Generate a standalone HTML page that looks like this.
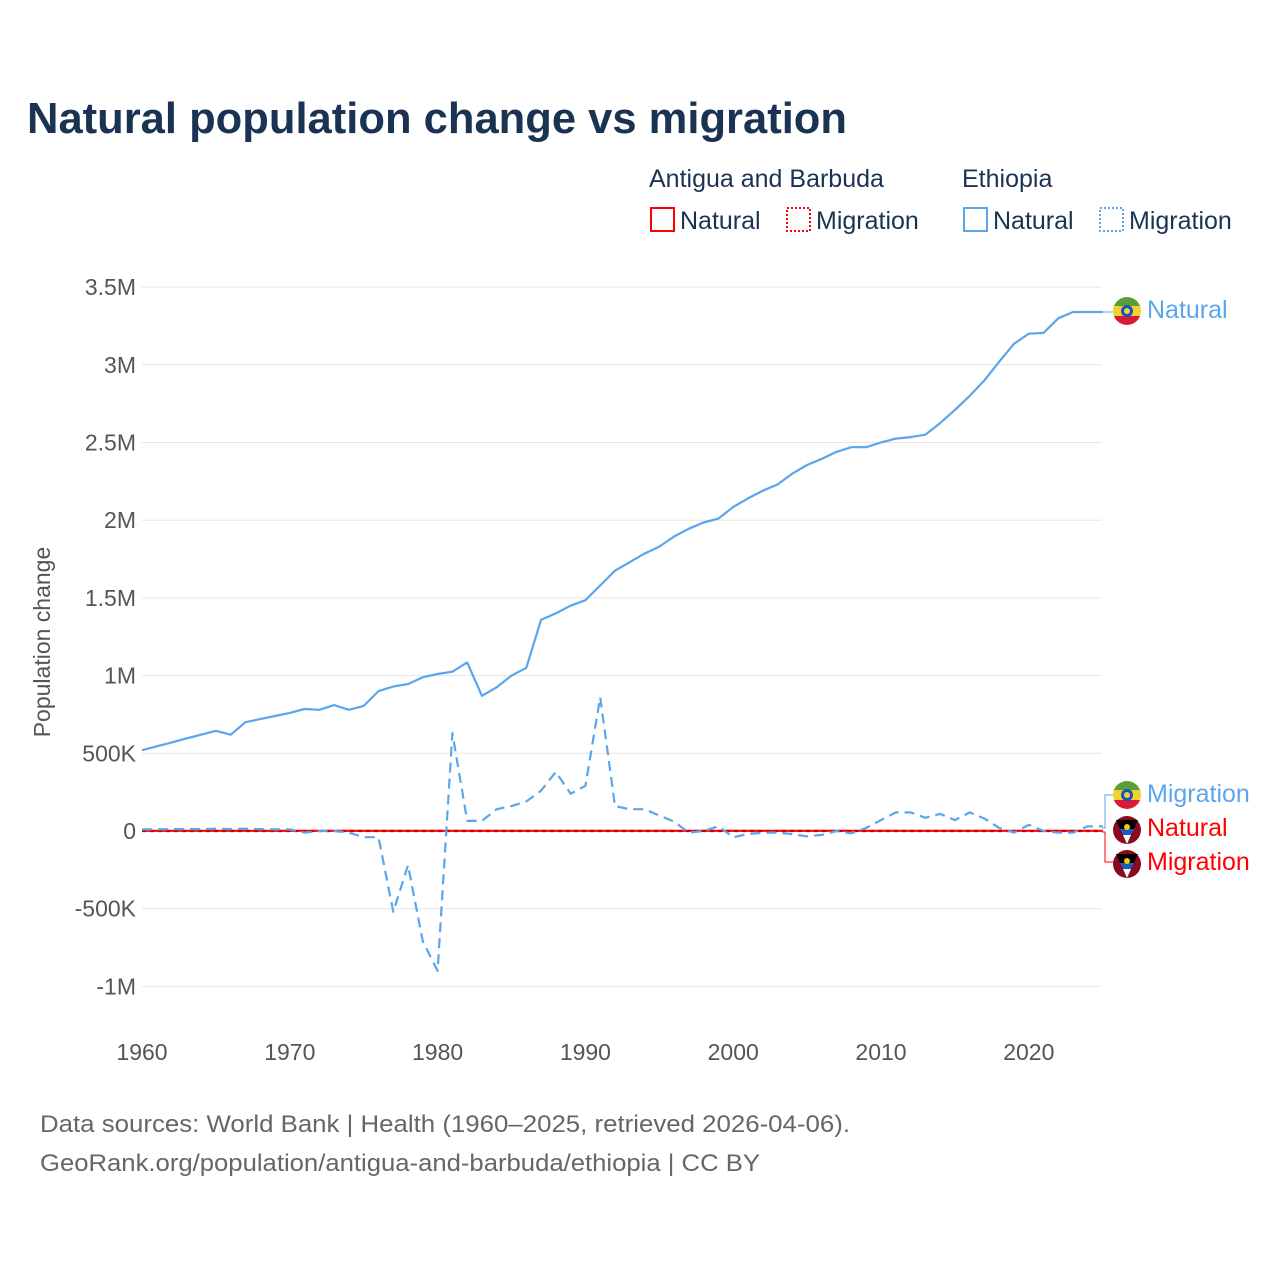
<!DOCTYPE html>
<html><head><meta charset="utf-8">
<style>
body{margin:0;background:#fff;font-family:"Liberation Sans",sans-serif;}
svg text{font-family:"Liberation Sans",sans-serif;}
</style></head>
<body>
<svg id="chart" width="1280" height="1280" viewBox="0 0 1280 1280" xmlns="http://www.w3.org/2000/svg">
<text x="27" y="133" font-size="44" font-weight="bold" fill="#1a3353" textLength="820" lengthAdjust="spacingAndGlyphs">Natural population change vs migration</text>
<g font-size="25" fill="#1a3353">
<text x="649" y="187">Antigua and Barbuda</text>
<text x="962" y="187">Ethiopia</text>
<g><rect x="651" y="208" width="23" height="23" fill="none" stroke="#f00" stroke-width="2"/><text x="680" y="229">Natural</text></g>
<g><rect x="787" y="208" width="23" height="23" fill="none" stroke="#f00" stroke-width="2" stroke-dasharray="2,2"/><text x="816" y="229">Migration</text></g>
<g><rect x="964" y="208" width="23" height="23" fill="none" stroke="#5aa5ec" stroke-width="2"/><text x="993" y="229">Natural</text></g>
<g><rect x="1100" y="208" width="23" height="23" fill="none" stroke="#5aa5ec" stroke-width="2" stroke-dasharray="2,2"/><text x="1129" y="229">Migration</text></g>
</g>
<g id="grid"></g>
<g id="axes"></g>
<g id="series"></g>
<g id="labels"></g>
<text transform="translate(50,642) rotate(-90)" text-anchor="middle" font-size="23" fill="#555">Population change</text>
<text x="40" y="1132" font-size="24" fill="#666" textLength="810" lengthAdjust="spacingAndGlyphs">Data sources: World Bank | Health (1960–2025, retrieved 2026-04-06).</text>
<text x="40" y="1171" font-size="24" fill="#666" textLength="720" lengthAdjust="spacingAndGlyphs">GeoRank.org/population/antigua-and-barbuda/ethiopia | CC BY</text>
</svg>
<script>
const years=[];for(let y=1960;y<=2025;y++)years.push(y);
const ethNatural=[0.52,0.545,0.57,0.595,0.62,0.645,0.62,0.70,0.72,0.74,0.76,0.785,0.78,0.81,0.78,0.805,0.90,0.93,0.945,0.99,1.01,1.025,1.085,0.87,0.925,1.0,1.05,1.36,1.40,1.45,1.485,1.58,1.675,1.73,1.785,1.83,1.895,1.945,1.985,2.01,2.085,2.14,2.19,2.23,2.30,2.355,2.395,2.44,2.47,2.47,2.50,2.525,2.535,2.55,2.625,2.71,2.80,2.90,3.02,3.135,3.20,3.205,3.30,3.34,3.34,3.34];
const ethMigration=[0.01,0.01,0.012,0.012,0.012,0.015,0.012,0.015,0.012,0.01,0.01,-0.01,0,0,-0.01,-0.04,-0.04,-0.52,-0.22,-0.71,-0.9,0.63,0.065,0.065,0.14,0.16,0.19,0.26,0.38,0.24,0.29,0.86,0.16,0.14,0.14,0.1,0.06,-0.01,0.0,0.03,-0.04,-0.02,-0.01,-0.01,-0.02,-0.035,-0.025,0.0,-0.015,0.02,0.07,0.12,0.12,0.085,0.11,0.07,0.12,0.08,0.02,-0.01,0.04,0.0,-0.01,-0.01,0.03,0.03];
const agNatural=years.map(()=>0.0015);
const agMigration=years.map(()=>0.0);
const yTicks=[-1,-0.5,0,0.5,1,1.5,2,2.5,3,3.5];
const yTickLabels=["-1M","-500K","0","500K","1M","1.5M","2M","2.5M","3M","3.5M"];
const xTicks=[1960,1970,1980,1990,2000,2010,2020];
const NS="http://www.w3.org/2000/svg";
const X=y=>142+(y-1960)*14.78;
const Y=v=>831-v*155.4;
function mk(tag,attrs,parent){const e=document.createElementNS(NS,tag);for(const k in attrs)e.setAttribute(k,attrs[k]);document.getElementById(parent).appendChild(e);return e;}
yTicks.forEach((t,i)=>{
 const l=mk('line',{x1:142,x2:1102,y1:Y(t),y2:Y(t),stroke:'#e6e6e6','stroke-width':1},'grid');
 
 
 const tx=mk('text',{x:136,y:Y(t)+8,'text-anchor':'end','font-size':23,fill:'#555'},'axes');
 tx.textContent=yTickLabels[i];
 
 
});
xTicks.forEach(t=>{
 const tx=mk('text',{x:X(t),y:1060,'text-anchor':'middle','font-size':23,fill:'#555'},'axes');
 tx.textContent=t;
 
 
});
function line(vals,color,dash,name){
 const d=vals.map((v,i)=>(i?'L':'M')+X(years[i]).toFixed(1)+','+Y(v).toFixed(1)).join('');
 const p=mk('path',{d:d,fill:'none',stroke:color,'stroke-width':2.2,'stroke-dasharray':dash,'stroke-linejoin':'round'},'series');
 
 
}
line(agNatural,'#f00','none','antigua-natural-line');
line(agMigration,'#c00','4,4','antigua-migration-line');
line(ethNatural,'#5aa5ec','none','ethiopia-natural-line');
line(ethMigration,'#5aa5ec','10,6','ethiopia-migration-line');
function flag(cx,cy,eth,name){
 const g=mk('g',{},'labels');
 
 
 if(eth){
  g.innerHTML=`<clipPath id="c${cy}"><circle cx="${cx}" cy="${cy}" r="14"/></clipPath><g clip-path="url(#c${cy})"><rect x="${cx-14}" y="${cy-14}" width="28" height="10" fill="#5a9e3c"/><rect x="${cx-14}" y="${cy-5}" width="28" height="10" fill="#f2d22e"/><rect x="${cx-14}" y="${cy+5}" width="28" height="10" fill="#da1a35"/></g><circle cx="${cx}" cy="${cy}" r="6" fill="#1555c0"/><circle cx="${cx}" cy="${cy}" r="3" fill="#f2d22e"/>`;
 } else {
  g.innerHTML=`<circle cx="${cx}" cy="${cy}" r="14" fill="#8b0a1f"/><path d="M${cx-11},${cy-10}L${cx+11},${cy-10}L${cx},${cy+14}Z" fill="#000"/><path d="M${cx-7},${cy-1}L${cx+7},${cy-1}L${cx+4},${cy+5}L${cx-4},${cy+5}Z" fill="#1c5bc0"/><path d="M${cx-4},${cy+5}L${cx+4},${cy+5}L${cx},${cy+14}Z" fill="#fff"/><circle cx="${cx}" cy="${cy-3}" r="3" fill="#f2c800"/>`;
 }
}
function lab(txt,y,color,name){
 const t=mk('text',{x:1147,y:y+9,'font-size':25,fill:color},'labels');
 t.textContent=txt;
 
 
}
const conn=mk('path',{d:`M1102,${Y(3.34)}H1113 M1102,828H1105V795H1113`,fill:'none',stroke:'#5aa5ec','stroke-width':1},'labels');


const conn2=mk('path',{d:`M1102,832H1105V862H1113`,fill:'none',stroke:'#f00','stroke-width':1},'labels');


flag(1127,311,true,'ethiopia-flag-natural');lab('Natural',309,'#5aa5ec','end-label-ethiopia-natural');
flag(1127,795,true,'ethiopia-flag-migration');lab('Migration',793,'#5aa5ec','end-label-ethiopia-migration');
flag(1127,830,false,'antigua-flag-natural');lab('Natural',827,'#f00','end-label-antigua-natural');
flag(1127,864,false,'antigua-flag-migration');lab('Migration',861,'#f00','end-label-antigua-migration');
</script>
</body></html>
